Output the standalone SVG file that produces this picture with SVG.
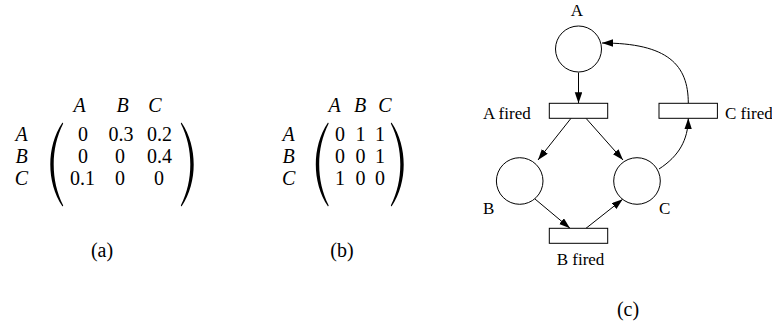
<svg xmlns="http://www.w3.org/2000/svg" xmlns:xlink="http://www.w3.org/1999/xlink" width="772" height="328" viewBox="0 0 772 328">
<style>
text{font-family:'Liberation Serif','Times New Roman','DejaVu Serif',serif;fill:#000}
.m{font-size:20px;text-anchor:middle}
.i{font-style:italic}
.p{font-size:17px}
.c{text-anchor:middle}
.nd{fill:#fff;stroke:#000;stroke-width:1}
.e{fill:none;stroke:#000;stroke-width:1;marker-end:url(#ah)}
</style>
<defs>
<path id="lp" d="M62.5,122.5 C54,135 50.3,150 50.3,164.5 C50.3,179 54,194 62.5,206.5 L63.2,205.5 C56.8,193 53.7,179 53.7,164.5 C53.7,150 56.8,136 63.2,123.5 Z" fill="#000"/>
<marker id="ah" markerUnits="userSpaceOnUse" markerWidth="12" markerHeight="8" refX="11" refY="3.75" orient="auto">
<path d="M0,0 L11,3.75 L0,7.5 Z" fill="#000"/>
</marker>
</defs>

<g id="matrix-a">
<text class="m i" x="79.5" y="111.5">A</text>
<text class="m i" x="122.5" y="111.5">B</text>
<text class="m i" x="155" y="111.5">C</text>
<text class="m i" x="21.5" y="141">A</text>
<text class="m i" x="21.5" y="163">B</text>
<text class="m i" x="21.5" y="185">C</text>
<use xlink:href="#lp"/>
<use xlink:href="#lp" transform="translate(244,0) scale(-1,1)"/>
<text class="m" x="83" y="141">0</text>
<text class="m" x="121" y="141">0.3</text>
<text class="m" x="159.5" y="141">0.2</text>
<text class="m" x="83" y="163">0</text>
<text class="m" x="120" y="163">0</text>
<text class="m" x="159.5" y="163">0.4</text>
<text class="m" x="82.5" y="185">0.1</text>
<text class="m" x="120" y="185">0</text>
<text class="m" x="159" y="185">0</text>
<text class="m" x="102" y="257">(a)</text>
</g>

<g id="matrix-b">
<text class="m i" x="334.7" y="111.5">A</text>
<text class="m i" x="360" y="111.5">B</text>
<text class="m i" x="385" y="111.5">C</text>
<text class="m i" x="288.7" y="141">A</text>
<text class="m i" x="288.7" y="163">B</text>
<text class="m i" x="288.7" y="185">C</text>
<use xlink:href="#lp" transform="translate(265.5,0)"/>
<use xlink:href="#lp" transform="translate(454,0) scale(-1,1)"/>
<text class="m" x="340" y="141">0</text>
<text class="m" x="360.5" y="141">1</text>
<text class="m" x="380" y="141">1</text>
<text class="m" x="340" y="163">0</text>
<text class="m" x="360.5" y="163">0</text>
<text class="m" x="380" y="163">1</text>
<text class="m" x="340" y="185">1</text>
<text class="m" x="360.5" y="185">0</text>
<text class="m" x="380" y="185">0</text>
<text class="m" x="342" y="257">(b)</text>
</g>

<g id="connectors">
<line class="e" x1="578.5" y1="72.5" x2="578.5" y2="103.3"/>
<line class="e" x1="571" y1="118.3" x2="538" y2="160"/>
<line class="e" x1="586" y1="118.3" x2="623" y2="160"/>
<line class="e" x1="535" y1="199" x2="570" y2="228.3"/>
<line class="e" x1="586" y1="228.3" x2="622.7" y2="199.3"/>
<path class="e" d="M659,169 C679,156 688,140 688.3,118.3"/>
<path class="e" d="M688.3,103.3 C688.3,65 668,43 602,43"/>
</g>

<g id="place-A">
<circle class="nd" cx="578.5" cy="49" r="23"/>
<text class="p c" x="577" y="16">A</text>
</g>
<g id="place-B">
<circle class="nd" cx="519.7" cy="181" r="23.3"/>
<text class="p" x="483" y="214">B</text>
</g>
<g id="place-C">
<circle class="nd" cx="637" cy="181" r="23.3"/>
<text class="p" x="659" y="214">C</text>
</g>
<g id="trans-A">
<rect class="nd" x="549.3" y="103.3" width="58.4" height="15"/>
<text class="p" x="483" y="118.5">A fired</text>
</g>
<g id="trans-C">
<rect class="nd" x="659" y="103.3" width="58.4" height="15"/>
<text class="p" x="725" y="118.5">C fired</text>
</g>
<g id="trans-B">
<rect class="nd" x="549.3" y="228.3" width="58.4" height="15"/>
<text class="p" x="556.7" y="265">B fired</text>
</g>
<text class="m" x="628" y="316">(c)</text>
</svg>
